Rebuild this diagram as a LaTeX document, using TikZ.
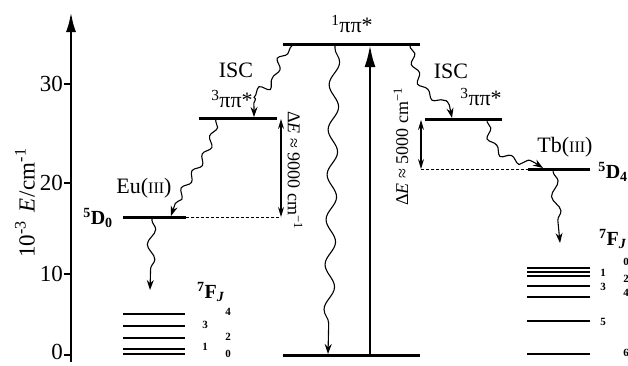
\documentclass[tikz,border=0pt]{standalone}
\usepackage{fontspec}
\setmainfont{Liberation Serif}
\usetikzlibrary{arrows.meta,decorations.pathmorphing}
\begin{document}
\begin{tikzpicture}[x=1pt,y=-1pt,
  lvl/.style={line width=3pt},
  flvl/.style={line width=2.2pt},
  dashline/.style={line width=0.7pt, dash pattern=on 3pt off 2pt},
  wavy/.style={line width=1.1pt, -{Stealth[length=10pt,width=7pt]},
     decorate, decoration={snake, amplitude=3pt, segment length=20pt, pre length=2pt, post length=9pt}},
  dbl/.style={line width=1.1pt, {Stealth[length=10pt,width=6pt]}-{Stealth[length=10pt,width=6pt]}},
  big/.style={font=\fontsize{22}{24}\selectfont, inner sep=0pt},
  tick/.style={font=\fontsize{23}{24}\selectfont, inner sep=0pt},
  mid/.style={font=\fontsize{18}{20}\selectfont, inner sep=0pt},
  bnum/.style={font=\fontsize{11}{12}\selectfont\bfseries, inner sep=0pt},
  blab/.style={font=\fontsize{20}{22}\selectfont\bfseries, inner sep=0pt}
]
\useasboundingbox (0,0) rectangle (628,365);
\clip (0,0) rectangle (628,365);
% axis
\coordinate (ax0) at (71,362);
\coordinate (ax1) at (71,12);
\draw[line width=2.6pt, -{Latex[length=20pt,width=10pt]}] (ax0) -- (ax1);
\foreach \v/\y/\ly in {30/84/84,20/183/183,10/274/274,0/355/352}{
  \coordinate (t\v) at (71,\y);
  \draw[line width=1.4pt] (t\v) -- ++(-7,0);
  \node[tick, anchor=east] (tl\v) at (63,\ly) {\v};
}
\node[tick, rotate=90] (ylab) at (25,203) {10\textsuperscript{-3}\hspace{8pt}\textit{E}\hspace{1pt}/\hspace{1pt}cm\textsuperscript{-1}};

% levels
\coordinate (s1a) at (283,44); \coordinate (s1b) at (420,44);
\draw[lvl] (s1a) -- (s1b);
\coordinate (g0a) at (283,355); \coordinate (g0b) at (420,355);
\draw[lvl] (g0a) -- (g0b);
\coordinate (eta) at (199,118); \coordinate (etb) at (277,118);
\draw[lvl] (eta) -- (etb);
\coordinate (tta) at (425,119); \coordinate (ttb) at (502,119);
\draw[lvl] (tta) -- (ttb);
\coordinate (d0a) at (123,217); \coordinate (d0b) at (186,217);
\draw[lvl] (d0a) -- (d0b);
\coordinate (d4a) at (528,169); \coordinate (d4b) at (590,169);
\draw[lvl] (d4a) -- (d4b);

% Eu 7F levels
\foreach \y in {314,326,338,349,354}{\draw[flvl] (123,\y) -- (185,\y);}
\node[bnum] (e4) at (228,312) {4};
\node[bnum] (e3) at (205,325) {3};
\node[bnum] (e2) at (228,337) {2};
\node[bnum] (e1) at (205,347) {1};
\node[bnum] (e0) at (228,354) {0};
% Tb 7F levels
\foreach \y in {268,272,276,286,297,321,354}{\draw[line width=1.8pt] (527,\y) -- (590,\y);}
\node[bnum] (b0) at (626,262) {0};
\node[bnum] (b1) at (603,273) {1};
\node[bnum] (b2) at (626,279) {2};
\node[bnum] (b3) at (603,287) {3};
\node[bnum] (b4) at (626,293) {4};
\node[bnum] (b5) at (603,322) {5};
\node[bnum] (b6) at (626,353) {6};

% dashed
\coordinate (dd1) at (281,217);
\draw[dashline] (d0b) -- (dd1);
\coordinate (dd2) at (421,169);
\draw[dashline] (dd2) -- (d4a);

% Delta E arrows
\coordinate (de1t) at (281,119);
\draw[dbl] (de1t) -- (dd1);
\coordinate (de2t) at (421,120);
\draw[dbl] (de2t) -- (dd2);
\node[mid, rotate=-90] (de1) at (295,170) {Δ\textit{E} ≈ 9000 cm\textsuperscript{−1}};
\node[mid, rotate=90] (de2) at (401,147) {Δ\textit{E} ≈ 5000 cm\textsuperscript{−1}};

% labels
\node[big] (s1l) at (352,24) {\textsuperscript{1}ππ*};
\node[big] (isc1) at (236,70) {ISC};
\node[big] (et) at (232,99) {\textsuperscript{3}ππ*};
\node[big] (isc2) at (451,71) {ISC};
\node[big] (tt) at (481,97) {\textsuperscript{3}ππ*};
\node[big] (eu) at (144,188) {Eu({\fontsize{16}{17}\selectfont III})};
\node[big] (tb) at (565,147) {Tb({\fontsize{16}{17}\selectfont III})};
\node[blab] (d0l) at (98,218) {\textsuperscript{5}D\textsubscript{0}};
\node[blab] (d4l) at (613,172) {\textsuperscript{5}D\textsubscript{4}};
\node[blab] (f1) at (211,292) {\textsuperscript{7}F\textsubscript{\textit{J}}};
\node[blab] (f2) at (613,239) {\textsuperscript{7}F\textsubscript{\textit{J}}};

% wavy arrows
\coordinate (w1s) at (292,46); \coordinate (w1e) at (254,117);
\draw[wavy] (w1s) .. controls (272,62) and (290,82) .. (262,86) .. controls (254,90) .. (w1e);
\coordinate (w2s) at (216,119); \coordinate (w2e) at (171,216);
\draw[wavy] (w2s) .. controls (210,160) and (185,170) .. (w2e);
\coordinate (w3s) at (152,218); \coordinate (w3e) at (150,290);
\draw[wavy, decoration={snake, amplitude=4pt, segment length=30pt, pre length=2pt, post length=9pt}] (w3s) -- (w3e);
\coordinate (w4s) at (335,46); \coordinate (w4e) at (328,354);
\draw[wavy, decoration={snake, amplitude=5pt, segment length=45pt, pre length=2pt, post length=10pt}] (w4s) -- (w4e);
\coordinate (w6s) at (410,46); \coordinate (w6e) at (452,118);
\draw[wavy] (w6s) .. controls (414,62) and (416,78) .. (426,88) .. controls (440,100) and (450,98) .. (w6e);
\coordinate (w7s) at (487,120); \coordinate (w7e) at (543,168);
\draw[wavy] (w7s) .. controls (490,160) and (520,150) .. (w7e);
\coordinate (w8s) at (553,170); \coordinate (w8e) at (560,243);
\draw[wavy, decoration={snake, amplitude=4pt, segment length=30pt, pre length=2pt, post length=9pt}] (w8s) -- (w8e);

% excitation arrow
\coordinate (upS) at (370,355); \coordinate (upE) at (370,45);
\draw[line width=2.6pt, -{Latex[length=22pt,width=11pt]}] (upS) -- (upE);
\end{tikzpicture}
\end{document}
